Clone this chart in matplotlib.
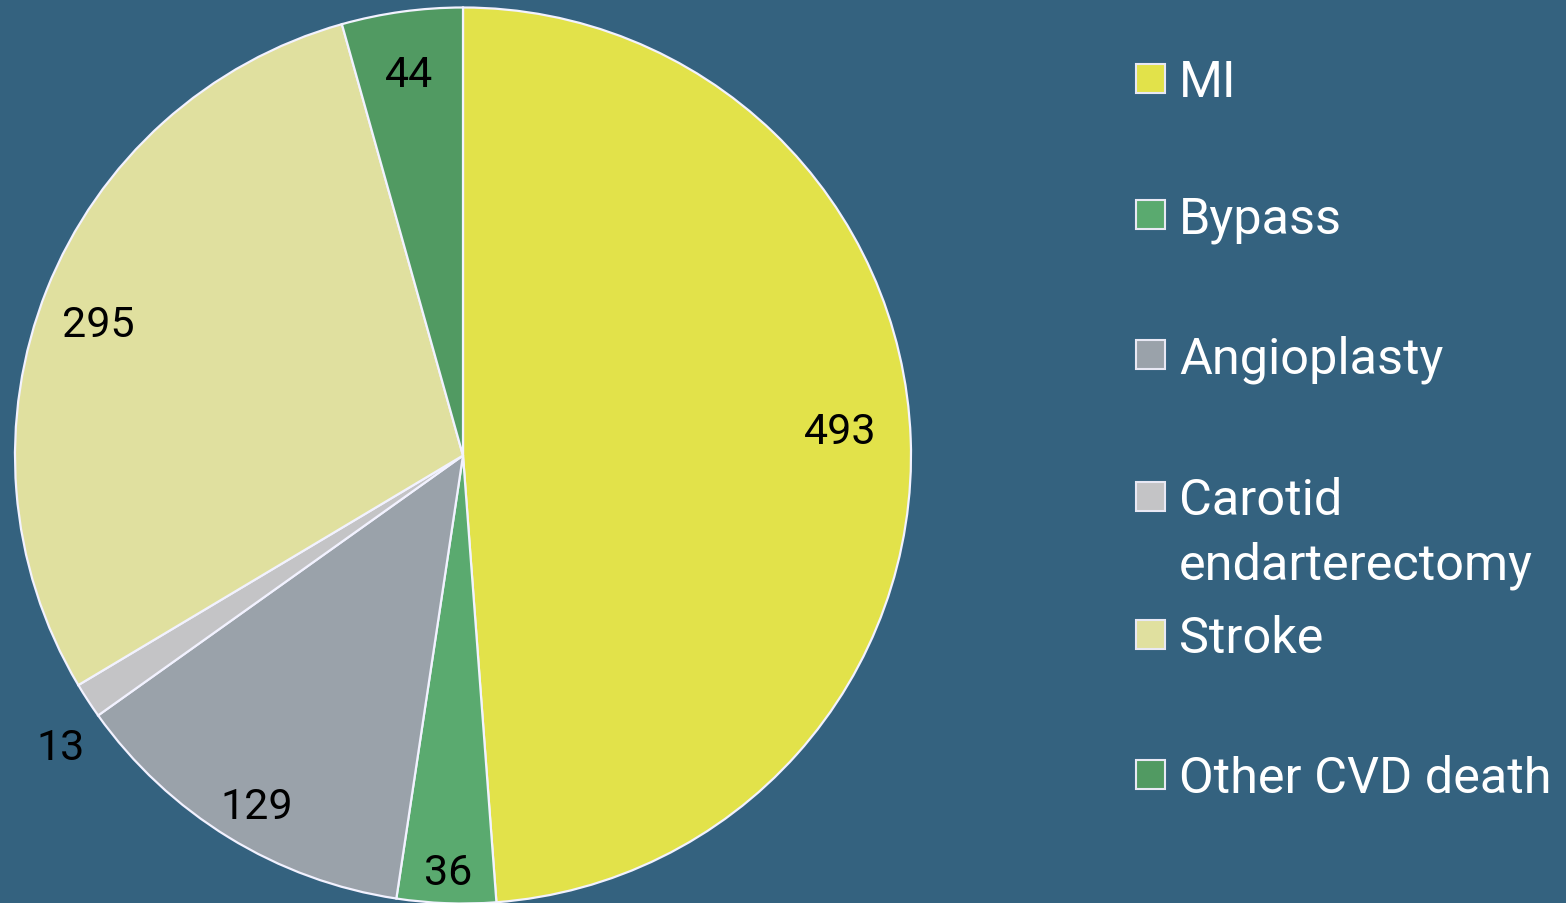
import numpy as np
import matplotlib
matplotlib.use("Agg")
import matplotlib.pyplot as plt
from matplotlib.patches import Rectangle

categories = ["MI", "Bypass", "Angioplasty", "Carotid\nendarterectomy", "Stroke", "Other CVD death"]
values = [493, 36, 129, 13, 295, 44]
colors = ["#E2E24A", "#5AAA6F", "#9AA2AA", "#C4C4C6", "#E0E09F", "#519A62"]
label_dist = [0.845, 0.915, 0.895, 1.10, 0.87, 0.875]
label_dang = [2.6, 0.0, 0.6, 2.2, 1.0, 0.0]

BG = "#34627F"
FONT = ["Roboto", "DejaVu Sans"]

fig = plt.figure(figsize=(15.66, 9.04), dpi=100)
fig.patch.set_facecolor(BG)

W, H = 1566, 904
cx, cy, R = 463, 456.5, 448
ax = fig.add_axes([(cx - R) / W, (H - cy - R) / H, 2 * R / W, 2 * R / H])
ax.set_facecolor(BG)
wedges, _ = ax.pie(values, colors=colors, startangle=90, counterclock=False,
                   radius=1.0, wedgeprops=dict(edgecolor="#F2F2FF", linewidth=1.6))
ax.set_xlim(-1, 1)
ax.set_ylim(-1, 1)
ax.set_aspect("equal")
ax.axis("off")

for w, v, d, da in zip(wedges, values, label_dist, label_dang):
    ang = np.deg2rad((w.theta1 + w.theta2) / 2 + da)
    ax.text(d * np.cos(ang), d * np.sin(ang) - 0.016, str(v), ha="center", va="center",
            fontsize=31, color="black", family=FONT)

# legend
baselines = [97, 233, 373, 515, 653, 793]
sq = 29
for cat, col, b in zip(categories, colors, baselines):
    y0 = b - 3
    fig.add_artist(Rectangle((1136 / W, (H - y0) / H), sq / W, sq / H,
                             transform=fig.transFigure, facecolor=col,
                             edgecolor="#E8E8F4", linewidth=1.5))
    fig.text(1179 / W, (H - b) / H, cat.split("\n")[0], ha="left", va="baseline",
             fontsize=36.3, color="white", family=FONT)
    if "\n" in cat:
        fig.text(1179 / W, (H - b - 65) / H, cat.split("\n")[1], ha="left", va="baseline",
                 fontsize=36.3, color="white", family=FONT)

fig.savefig("out.png", dpi=100, facecolor=BG)
